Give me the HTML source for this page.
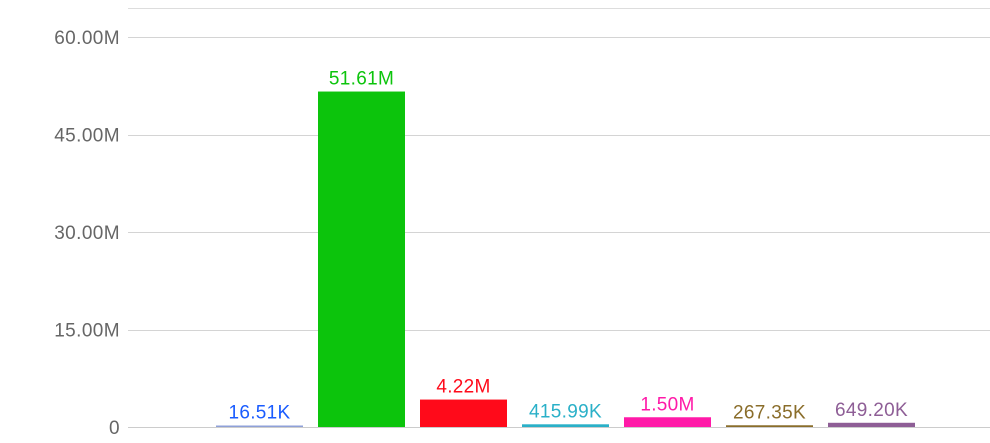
<!DOCTYPE html>
<html><head><meta charset="utf-8"><style>
body{margin:0;background:#fff;width:990px;height:438px;overflow:hidden;font-family:"Liberation Sans",sans-serif}
</style></head><body>
<svg width="990" height="438">
<line x1="128" y1="8.5" x2="990" y2="8.5" stroke="#ddd"/>
<g id="grid"></g>
<g id="yaxis"></g>
<g id="bars"></g>
</svg>
<script>
const values=[16510,51610000,4220000,415990,1500000,267350,649200];
const labels=["16.51K","51.61M","4.22M","415.99K","1.50M","267.35K","649.20K"];
const colors=["#8fa0d8","#0cc40c","#ff0a1a","#2ab0c8","#ff1aa8","#8a6d2a","#8e5e96"];
const labelColors=["#1a5cff","#0cc40c","#ff0a1a","#2ab0c8","#ff1aa8","#8a6d2a","#8e5e96"];
const ticks=[0,15000000,30000000,45000000,60000000];
const tickLabels=["0","15.00M","30.00M","45.00M","60.00M"];
const NS="http://www.w3.org/2000/svg";
const y=v=>427-v/60000000*390;
const x=i=>216+i*102;
const bw=87;
const grid=document.getElementById('grid'),ya=document.getElementById('yaxis'),bars=document.getElementById('bars');
ticks.forEach((t,i)=>{
  const l=document.createElementNS(NS,'line');
  l.setAttribute('x1',128);l.setAttribute('x2',990);
  l.setAttribute('y1',Math.round(y(t))+0.5);l.setAttribute('y2',Math.round(y(t))+0.5);
  l.setAttribute('stroke',t===0?'#ccc':'#d4d4d4');
  
  
  grid.appendChild(l);
  const tx=document.createElementNS(NS,'text');
  tx.setAttribute('x',120);tx.setAttribute('y',y(t)+7);
  tx.setAttribute('text-anchor','end');tx.setAttribute('font-size','19');tx.setAttribute('letter-spacing','0.4');tx.setAttribute('fill','#666');
  tx.textContent=tickLabels[i];
  
  
  ya.appendChild(tx);
});
values.forEach((v,i)=>{
  const h=Math.max(1.5,427-y(v));
  const r=document.createElementNS(NS,'rect');
  r.setAttribute('x',x(i));r.setAttribute('y',427-h);r.setAttribute('width',bw);r.setAttribute('height',h);
  r.setAttribute('fill',colors[i]);
  
  
  bars.appendChild(r);
  const t=document.createElementNS(NS,'text');
  t.setAttribute('x',x(i)+bw/2);t.setAttribute('y',427-h-7);
  t.setAttribute('text-anchor','middle');t.setAttribute('font-size','19');t.setAttribute('letter-spacing','0.3');t.setAttribute('fill',labelColors[i]);
  t.textContent=labels[i];
  
  
  bars.appendChild(t);
});
</script>
</body></html>
